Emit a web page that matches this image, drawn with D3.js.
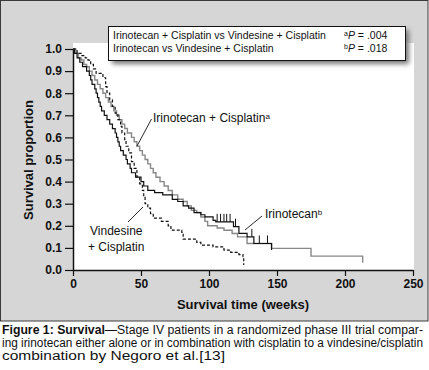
<!DOCTYPE html>
<html>
<head>
<meta charset="utf-8">
<script src="https://cdn.jsdelivr.net/npm/d3@7"></script>
<style>
  body { margin: 0; background: #fff; }
  svg { display: block; font-family: "Liberation Sans", Arial, sans-serif; }
</style>
</head>
<body>
<div id="chart"></div>
<script>
// ---------- data (weeks, survival proportion)
const irinoCis = [[0,1],[2,0.98],[4,0.96],[6,0.95],[8,0.93],[10,0.92],[12,0.90],[14,0.88],[16,0.86],[18,0.84],
  [20,0.82],[22,0.80],[24,0.78],[26,0.76],[28,0.74],[30,0.72],[32,0.70],[34,0.68],[36,0.66],[38,0.64],[40,0.62],
  [43,0.60],[45,0.58],[47,0.56],[49,0.54],[51,0.52],[53,0.50],[55,0.48],[57,0.46],[59,0.44],[61,0.42],[64,0.40],
  [67,0.38],[70,0.36],[73,0.34],[77,0.32],[81,0.31],[84,0.29],[87,0.27],[91,0.26],[94,0.24],[97,0.22],[99,0.20],
  [106,0.19],[111,0.18],[117,0.165],[121,0.15],[128,0.12],[146,0.098],[175,0.063],[213,0.033]]

const irino = [[0,1],[1,0.98],[3,0.96],[5,0.94],[7,0.92],[10,0.90],[12,0.88],[13,0.86],[14,0.84],[16,0.82],
  [17,0.80],[18,0.78],[19,0.76],[20,0.74],[21,0.72],[23,0.70],[25,0.68],[27,0.66],[29,0.64],[31,0.62],[32,0.60],
  [33,0.58],[34,0.56],[35,0.54],[37,0.52],[39,0.50],[40,0.48],[42,0.46],[43,0.44],[46,0.42],[50,0.40],[52,0.38],
  [55,0.36],[60,0.35],[66,0.34],[73,0.32],[77,0.31],[81,0.29],[85,0.28],[89,0.26],[94,0.25],[97,0.24],[103,0.225],
  [105,0.218],[118,0.196],[122,0.166],[128,0.15],[133,0.12],[146,0.09]]
const irinoCensored = [106,108.5,111,113,115.5,119.5,131.5,137,143]

const vindCis = [[0,1],[3,0.98],[6,0.97],[9,0.96],[11,0.95],[13,0.93],[15,0.91],[17,0.89],[22,0.87],[24,0.83],
  [25,0.80],[27,0.77],[29,0.74],[31,0.71],[33,0.68],[35,0.65],[36,0.62],[38,0.59],[39,0.56],[41,0.53],[43,0.49],
  [45,0.46],[47,0.42],[49,0.39],[51,0.36],[52,0.33],[53,0.30],[55,0.28],[57,0.255],[59,0.235],[65,0.22],[70,0.20],
  [72,0.18],[80,0.17],[81,0.14],[91,0.125],[94,0.113],[103,0.105],[111,0.09],[116,0.08],[122,0.07],[125,0.06],[125.5,0.023]]

const xTicks = [0,50,100,150,200,250]
const yTicks = [0,0.1,0.2,0.3,0.4,0.5,0.6,0.7,0.8,0.9,1.0]
const captionLines = [
  "—Stage IV patients in a randomized phase III trial compar-",
  "ing irinotecan either alone or in combination with cisplatin to a vindesine/cisplatin",
  "combination by Negoro et al.[13]"
]

// ---------- dimensions
const width = 429, height = 370
const svg = d3.select("#chart").append("svg")
  .attr("width", width).attr("height", height)

const defs = svg.append("defs")
defs.append("filter").attr("id", "shadow").attr("x", "-10%").attr("y", "-30%").attr("width", "130%").attr("height", "180%")
  .append("feGaussianBlur").attr("stdDeviation", 2.5)

// panel
svg.append("rect").attr("x", 0.5).attr("y", 0.5).attr("width", 427.5).attr("height", 320.5)
  .attr("fill", "#d6d6d6").attr("stroke", "#3a3a3a").attr("stroke-width", 1)
svg.append("rect").attr("x", 73).attr("y", 43).attr("width", 341).attr("height", 227).attr("fill", "#fff")

const x = d3.scaleLinear().domain([0, 250]).range([73, 413])
const y = d3.scaleLinear().domain([0, 1]).range([270, 49])

// axes
const xAxis = svg.append("g").attr("transform", "translate(0,270)")
  .call(d3.axisBottom(x).tickValues(xTicks).tickSize(6).tickPadding(3).tickSizeOuter(0))
const yAxis = svg.append("g").attr("transform", "translate(73,0)")
  .call(d3.axisLeft(y).tickValues(yTicks).tickFormat(d3.format(".1f")).tickSize(8).tickPadding(3).tickSizeOuter(0))
;[xAxis, yAxis].forEach(g => {
  g.select(".domain").attr("stroke", "#111").attr("stroke-width", 1.5)
  g.selectAll(".tick line").attr("stroke", "#111").attr("stroke-width", 1.2)
  g.selectAll("text").attr("fill", "#111").style("font-size", "12px").style("font-weight", "bold")
    .style("font-family", "'Liberation Sans', Arial, sans-serif")
})

svg.append("text").attr("x", 243).attr("y", 309).attr("text-anchor", "middle")
  .style("font-size", "13px").style("font-weight", "bold").attr("fill", "#111")
  .text("Survival time (weeks)")
svg.append("text").attr("transform", "translate(33,160) rotate(-90)").attr("text-anchor", "middle")
  .style("font-size", "13px").style("font-weight", "bold").attr("fill", "#111")
  .text("Survival proportion")

// curves
const step = d3.line().x(d => x(d[0])).y(d => y(d[1])).curve(d3.curveStepAfter)
svg.append("path").attr("d", step(irinoCis)).attr("fill", "none").attr("stroke", "#888").attr("stroke-width", 1.4)
svg.append("path").attr("d", step(vindCis)).attr("fill", "none").attr("stroke", "#111").attr("stroke-width", 1.2)
  .attr("stroke-dasharray", "3,2")
svg.append("path").attr("d", step(irino)).attr("fill", "none").attr("stroke", "#111").attr("stroke-width", 1.2)

const survAt = t => { let s = 1; irino.forEach(d => { if (d[0] <= t) s = d[1] }); return s }
svg.selectAll(".cens").data(irinoCensored).join("line")
  .attr("x1", d => x(d)).attr("x2", d => x(d))
  .attr("y1", d => y(survAt(d))).attr("y2", d => y(survAt(d)) - 8)
  .attr("stroke", "#111").attr("stroke-width", 1)

// labels with leaders
const lab = (tx, ty, parts) => {
  const t = svg.append("text").attr("x", tx).attr("y", ty).style("font-size", "12px").attr("fill", "#111")
  parts.forEach(p => t.append("tspan").text(p.t).attr("dy", p.dy || null)
    .style("font-size", p.s || null).style("font-style", p.i ? "italic" : null))
  return t
}
const leader = (x1, y1, x2, y2) => svg.append("line").attr("x1", x1).attr("y1", y1).attr("x2", x2).attr("y2", y2)
  .attr("stroke", "#111").attr("stroke-width", 0.9)

lab(153, 122, [{t: "Irinotecan + Cisplatin"}, {t: "a", s: "8px", dy: -3}])
leader(151.5, 119, 137, 146)
lab(90, 235, [{t: "Vindesine"}])
lab(88, 251, [{t: "+ Cisplatin"}])
leader(128, 222, 143, 207)
lab(265, 218, [{t: "Irinotecan"}, {t: "b", s: "8px", dy: -3}])
leader(262, 216, 245, 230)

// legend box
svg.append("rect").attr("x", 112).attr("y", 30).attr("width", 297).attr("height", 34)
  .attr("fill", "#777").attr("filter", "url(#shadow)")
svg.append("rect").attr("x", 108.5).attr("y", 26.5).attr("width", 297).attr("height", 34)
  .attr("fill", "#fff").attr("stroke", "#111").attr("stroke-width", 1)
const legendRows = [
  {text: "Irinotecan + Cisplatin vs Vindesine + Cisplatin", sup: "a", p: " = .004"},
  {text: "Irinotecan vs Vindesine + Cisplatin", sup: "b", p: " = .018"}
]
legendRows.forEach((r, i) => {
  svg.append("text").attr("x", 113).attr("y", 39 + i * 13).style("font-size", "10.5px").attr("fill", "#111").text(r.text)
  const t = svg.append("text").attr("x", 344).attr("y", 39 + i * 13).style("font-size", "10.5px").attr("fill", "#111")
  t.append("tspan").text(r.sup).style("font-size", "7px").attr("dy", -3)
  t.append("tspan").text("P").style("font-style", "italic").attr("dy", 3)
  t.append("tspan").text(r.p)
})

// caption
const cap = svg.append("g").style("font-size", "12px").attr("fill", "#111")
const c1 = cap.append("text").attr("x", 2).attr("y", 334).attr("textLength", 421).attr("lengthAdjust", "spacingAndGlyphs")
c1.append("tspan").text("Figure 1: Survival").style("font-weight", "bold")
c1.append("tspan").text(captionLines[0])
cap.append("text").attr("x", 2).attr("y", 347).attr("textLength", 421).attr("lengthAdjust", "spacingAndGlyphs").text(captionLines[1])
cap.append("text").attr("x", 2).attr("y", 360).attr("textLength", 223).attr("lengthAdjust", "spacingAndGlyphs").text(captionLines[2])
</script>
</body>
</html>
